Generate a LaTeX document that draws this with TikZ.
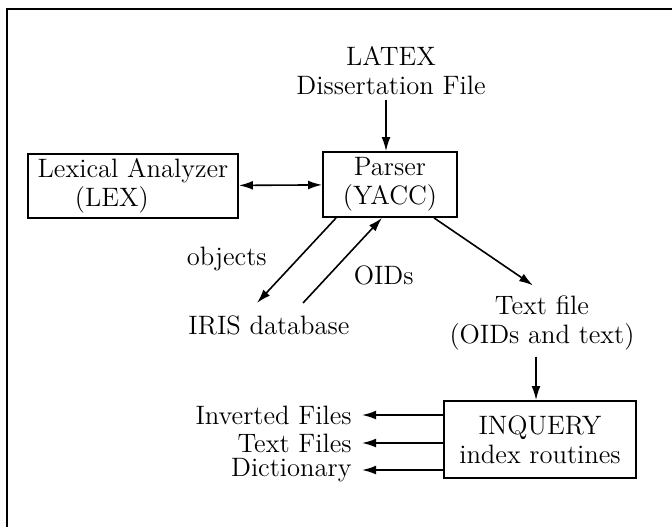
\documentclass[tikz,border=0pt]{standalone}
\usetikzlibrary{arrows.meta}

\begin{document}
\begin{tikzpicture}[x=0.5pt, y=-0.5pt,
	box/.style={draw, line width=0.9pt, inner sep=0pt, align=center},
	lbl/.style={inner sep=0pt, align=center},
	arr/.style={line width=0.8pt, -{Latex[length=7pt,width=4.4pt]}},
	font=\fontsize{13.3}{14.5}\selectfont]

		\useasboundingbox (0,0) rectangle (672,527);
		\draw[line width=1pt] (7,527) -- (7,9) -- (672,9);

		\node[lbl] (diss) at (391,71) {LATEX\\Dissertation File};
		\node[box, minimum width=67pt, minimum height=32.5pt] (parser) at (390,184.5) {Parser\\(YACC)};
		\node[box, minimum width=105pt, minimum height=32pt, align=left] (lex) at (133,186) {Lexical Analyzer\\\hspace*{1.4em}(LEX)};
		\node[lbl] (iris) at (269,325) {IRIS database};
		\node[lbl] (txt) at (542,323) {Text file\\(OIDs and text)};
		\node[box, minimum width=96pt, minimum height=38.5pt] (inq) at (540,439.5) {INQUERY\\index routines};

		\node[lbl, anchor=east] (inv) at (352,415) {Inverted Files};
		\node[lbl, anchor=east] (tf) at (352,443) {Text Files};
		\node[lbl, anchor=east] (dic) at (352,470) {Dictionary};

		\draw[arr] ([xshift=-2pt, yshift=-2pt]parser.north |- diss.south) -- ([xshift=-2pt]parser.north);
		\draw[arr, {Latex[length=7pt,width=4.4pt]}-{Latex[length=7pt,width=4.4pt]}] (lex) -- (parser);
		\draw[arr] ([xshift=7pt]parser.south west) -- ([xshift=-6pt, yshift=6pt]iris.north)
			node[pos=0.48, left=12pt] {objects};
		\draw[arr] ([xshift=17pt, yshift=6pt]iris.north) -- ([xshift=-4pt]parser.south)
			node[pos=0.32, right=9pt] {OIDs};
		\draw[arr] ([xshift=22pt]parser.south) -- ([xshift=-4.5pt, yshift=5pt]txt.north);
		\draw[arr] ([xshift=-2pt, yshift=-3pt]inq.north |- txt.south) -- ([xshift=-2pt]inq.north);
		\foreach \n in {inv, tf, dic}{
			\draw[arr] (inq.west |- \n.east) -- ([xshift=5pt]\n.east);
		}

	\end{tikzpicture}
\end{document}
